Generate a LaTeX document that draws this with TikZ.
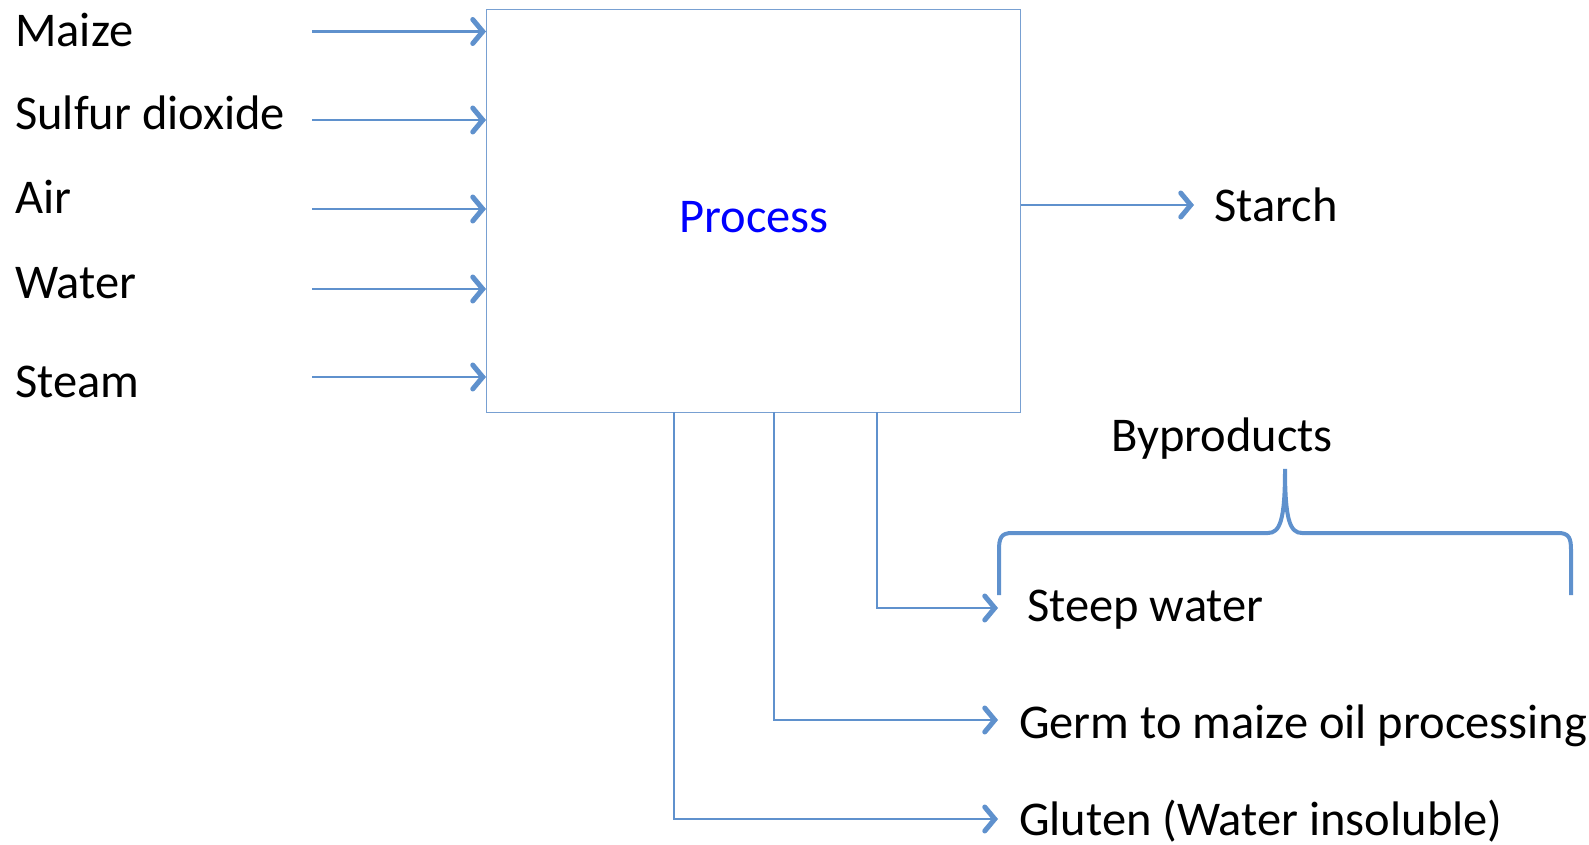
\documentclass[tikz,border=0pt]{standalone}
\usepackage{fontspec}
\setmainfont{Carlito}
\usetikzlibrary{arrows.meta}
\definecolor{lineblue}{RGB}{95,145,205}
\definecolor{boxblue}{RGB}{120,160,210}
\definecolor{procblue}{RGB}{0,0,255}
\begin{document}
\begin{tikzpicture}[x=1pt,y=-1pt,
  lbl/.style={inner sep=0pt,anchor=base west,font=\fontsize{48.5}{58}\selectfont},
  flow/.style={draw=lineblue,line width=2.8pt,-{Straight Barb[length=10pt,width=24pt,line width=5pt,line cap=round]}},
  procbox/.style={draw=boxblue,line width=1.3pt,inner sep=0pt,minimum width=534pt,minimum height=403pt}]
\useasboundingbox (0,0) rectangle (1589,845);
\node[procbox,anchor=north west] (P) at (486,9) {};
\node[lbl,anchor=base,text=procblue] (ptext) at (754,232) {Process};
% inputs
\node[lbl] (maize) at (15,47) {Maize};
\node[lbl] (so2) at (15,130) {Sulfur dioxide};
\node[lbl] (air) at (15,213) {Air};
\node[lbl] (water) at (15,298) {Water};
\node[lbl] (steam) at (15,397) {Steam};
\coordinate (s1) at (312,31.5);
\coordinate (s2) at (312,120);
\coordinate (s3) at (312,209);
\coordinate (s4) at (312,289);
\coordinate (s5) at (312,377);
\foreach \i in {1,...,5}{
  \draw[flow] (s\i) -- (s\i -| P.west);
}
% output
\node[lbl] (starch) at (1214,222) {Starch};
\coordinate (so) at (P.east |- 0,205);
\draw[flow] (so) -- (1194,205);
% byproducts
\node[lbl] (steep) at (1027,621) {Steep water};
\node[lbl] (germ) at (1019,738) {Germ to maize oil processing};
\node[lbl] (gluten) at (1019,835) {Gluten (Water insoluble)};
\node[lbl,anchor=base] (byp) at (1222,451) {Byproducts};
\coordinate (d1) at (877,412);
\coordinate (d2) at (774,412);
\coordinate (d3) at (674,412);
\coordinate (e1) at (998,608);
\coordinate (e2) at (998,720);
\coordinate (e3) at (998,819);
\draw[flow] (d1) |- (e1);
\draw[flow] (d2) |- (e2);
\draw[flow] (d3) |- (e3);
% brace
\draw[draw=lineblue,line width=4pt]
  (999,595) -- (999,550) .. controls (999,538) and (1001,533) .. (1012,533)
  -- (1268,533) .. controls (1280,533) and (1285,520) .. (1285,469)
  .. controls (1285,520) and (1290,533) .. (1302,533)
  -- (1558,533) .. controls (1569,533) and (1571,538) .. (1571,550) -- (1571,595);
\end{tikzpicture}
\end{document}
